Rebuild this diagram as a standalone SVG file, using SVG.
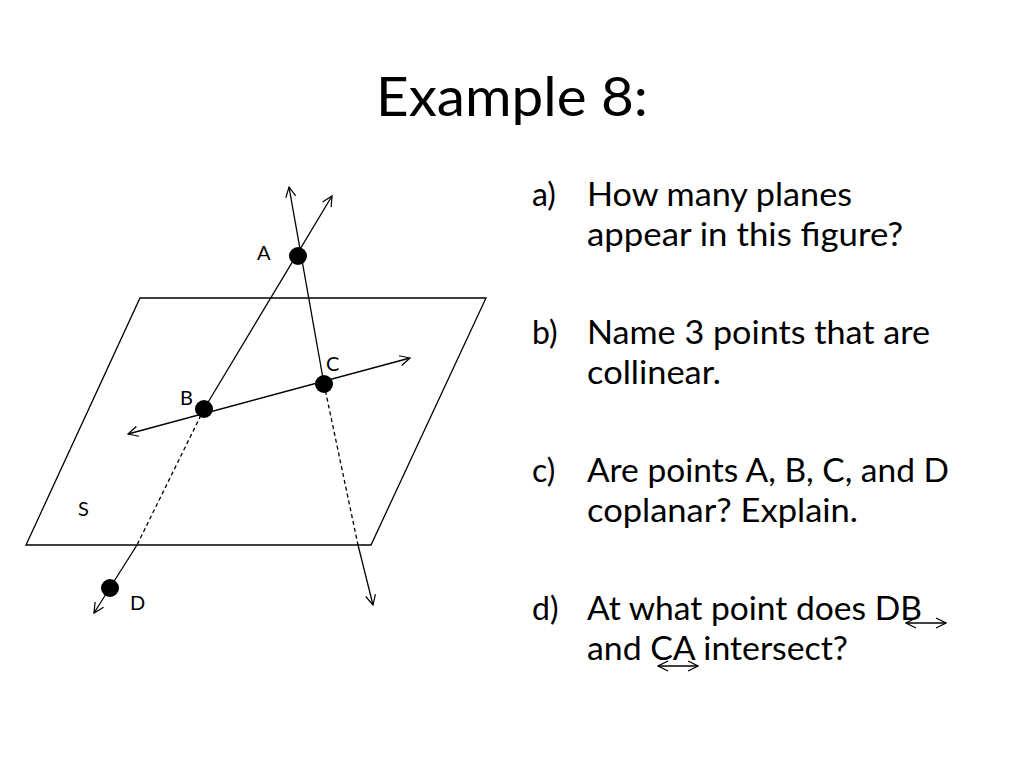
<svg xmlns="http://www.w3.org/2000/svg" width="1024" height="768" viewBox="0 0 1024 768">
<defs>
<marker id="ah" viewBox="0 0 12 12" refX="11" refY="6" markerWidth="12" markerHeight="12" markerUnits="userSpaceOnUse" orient="auto-start-reverse"><path d="M1,1 L11,6 L1,11" fill="none" stroke="#000" stroke-width="1.2"/></marker>
</defs>
<style>
text{font-family:Lato,"Open Sans",sans-serif;fill:#000}
.q{font-size:32px}
.lb{font-size:20px}
.ln{stroke:#000;stroke-width:1.3;fill:none}
.d{stroke-dasharray:4,3}
</style>
<rect width="1024" height="768" fill="#fff"/>
<text x="376" y="116" font-size="54" textLength="272" lengthAdjust="spacingAndGlyphs">Example 8:</text>
<g id="plane"><polygon class="ln" points="140,298 486,298 371,545 26,545"/><text class="lb" x="78" y="516">S</text></g>
<g id="connectors">
<line class="ln" x1="137" y1="545" x2="94" y2="613" marker-end="url(#ah)"/>
<line class="ln d" x1="204" y1="409" x2="137" y2="545"/>
<line class="ln" x1="204" y1="409" x2="332" y2="196" marker-end="url(#ah)"/>
<line class="ln" x1="324" y1="384" x2="289" y2="187" marker-end="url(#ah)"/>
<line class="ln d" x1="324" y1="384" x2="358" y2="545"/>
<line class="ln" x1="358" y1="545" x2="373" y2="605" marker-end="url(#ah)"/>
<line class="ln" x1="128" y1="434" x2="410" y2="358" marker-start="url(#ah)" marker-end="url(#ah)"/>
</g>
<g id="A"><circle cx="298" cy="256" r="9"/><text class="lb" x="257" y="260">A</text></g>
<g id="B"><circle cx="204" cy="409" r="9"/><text class="lb" x="180" y="405">B</text></g>
<g id="C"><circle cx="324" cy="384" r="9"/><text class="lb" x="326" y="371">C</text></g>
<g id="D"><circle cx="110" cy="588" r="9"/><text class="lb" x="130" y="610">D</text></g>
<g id="questions" class="q">
<text class="q" x="532" y="206">a)</text><text class="q" x="587" y="206" textLength="265" lengthAdjust="spacingAndGlyphs">How many planes</text><text class="q" x="587" y="246" textLength="316" lengthAdjust="spacingAndGlyphs">appear in this figure?</text>
<text class="q" x="532" y="344">b)</text><text class="q" x="587" y="344" textLength="343" lengthAdjust="spacingAndGlyphs">Name 3 points that are</text><text class="q" x="587" y="384" textLength="134" lengthAdjust="spacingAndGlyphs">collinear.</text>
<text class="q" x="532" y="482">c)</text><text class="q" x="587" y="482" textLength="362" lengthAdjust="spacingAndGlyphs">Are points A, B, C, and D</text><text class="q" x="587" y="522" textLength="271" lengthAdjust="spacingAndGlyphs">coplanar? Explain.</text>
<text class="q" x="532" y="620">d)</text><text class="q" x="587" y="620" textLength="335" lengthAdjust="spacingAndGlyphs">At what point does DB</text><text class="q" x="587" y="660" textLength="261" lengthAdjust="spacingAndGlyphs">and CA intersect?</text>
<line class="ln" x1="906" y1="623" x2="946" y2="623" marker-start="url(#ah)" marker-end="url(#ah)"/>
<line class="ln" x1="658" y1="666" x2="698" y2="666" marker-start="url(#ah)" marker-end="url(#ah)"/>
</g>
</svg>
